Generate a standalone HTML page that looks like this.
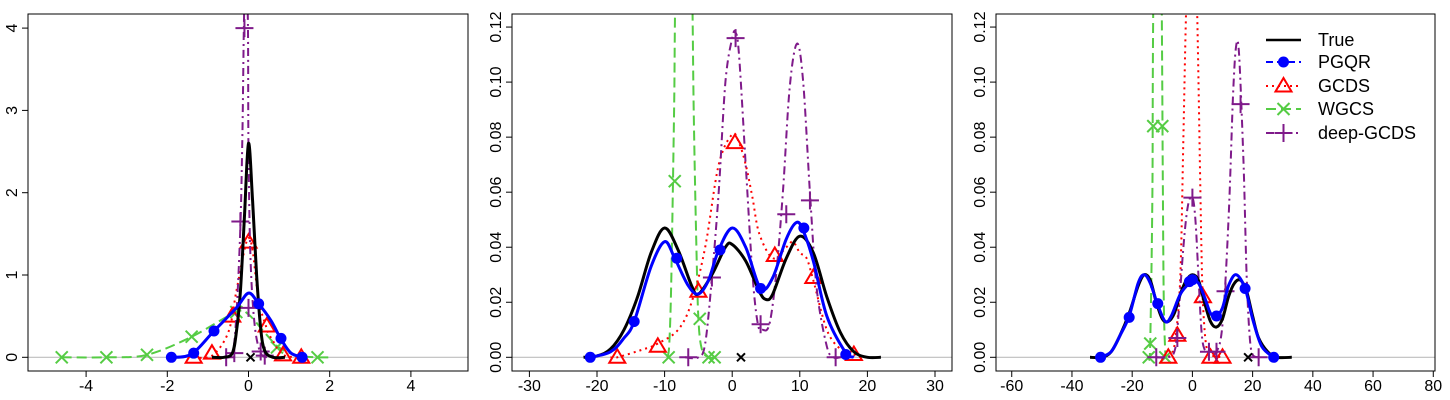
<!DOCTYPE html>
<html><head><meta charset="utf-8"><style>
body{margin:0;background:#fff;}
svg{display:block;font-family:"Liberation Sans",Arial,sans-serif;}
</style></head><body>
<svg id="c" width="1450" height="400" xmlns="http://www.w3.org/2000/svg"></svg>
<script>
// ===== Panel 1 data =====
const p1True=[[-0.9,0],[-0.6,0],[-0.4,0.05],[-0.3,0.3],[-0.2,0.8],[-0.1,1.7],[0,2.6],[0.1,1.9],[0.2,1.0],[0.3,0.35],[0.4,0.08],[0.6,0],[0.9,0]];
const p1Pgqr=[[-1.9,0],[-1.4,0.04],[-0.85,0.32],[-0.3,0.6],[0,0.78],[0.25,0.65],[0.55,0.45],[0.8,0.22],[1.05,0.05],[1.35,0]];
const p1PgqrPts=[[-1.9,0],[-1.35,0.05],[-0.85,0.32],[0.25,0.65],[0.8,0.23],[1.32,0]];
const p1Gcds=[[-1.35,0],[-0.9,0.02],[-0.5,0.3],[-0.3,0.8],[-0.1,1.3],[0,1.45],[0.1,1.3],[0.25,0.7],[0.45,0.35],[0.6,0.2],[0.85,0.03],[1.3,0]];
const p1GcdsPts=[[-1.35,0],[-0.9,0.05],[-0.4,0.5],[0,1.4],[0.45,0.38],[0.85,0.03],[1.3,0]];
const p1Wgcs=[[-4.6,0],[-3.5,0],[-2.5,0.03],[-1.4,0.25],[-0.3,0.55],[0,0.52],[0.4,0.3],[0.75,0.12],[1.2,0.02],[1.7,0],[2.0,0]];
const p1WgcsPts=[[-4.6,0],[-3.5,0],[-2.5,0.03],[-1.4,0.25],[-0.3,0.55],[0.7,0.12],[1.7,0]];
const p1Deep=[[-0.6,0],[-0.4,0.05],[-0.3,0.5],[-0.2,1.6],[-0.15,2.7],[-0.1,4.3],[-0.02,4.2],[0,2.5],[0.05,1.2],[0.15,0.4],[0.3,0.05],[0.5,0]];
const p1DeepPts=[[-0.55,0],[-0.35,0.05],[-0.2,1.65],[-0.1,4.0],[0.0,0.6],[0.3,0.07],[0.4,0.02]];
const p1Obs=[0.05];
const p1XTicks=[-4,-2,0,2,4];
const p1YTicks=[0,1,2,3,4];
// ===== Panel 2 data =====
const p2True=[[-22,0],[-20,0.0005],[-18,0.003],[-16,0.01],[-14,0.022],[-12,0.038],[-10,0.047],[-8,0.039],[-6,0.026],[-5,0.023],[-3,0.03],[-1,0.04],[0,0.041],[2,0.035],[4,0.024],[5,0.021],[6,0.023],[8,0.036],[10,0.044],[12,0.038],[14,0.022],[16,0.009],[18,0.002],[20,0],[22,0]];
const p2Pgqr=[[-21,0],[-18,0.002],[-16,0.007],[-14.5,0.013],[-12,0.033],[-10,0.042],[-8.5,0.036],[-6.5,0.026],[-5,0.023],[-3.5,0.028],[-2,0.039],[0,0.047],[2,0.04],[4.2,0.025],[6,0.029],[8,0.043],[9.5,0.049],[10.5,0.046],[12,0.035],[14,0.015],[16.7,0.002],[18,0]];
const p2PgqrPts=[[-21,0],[-14.5,0.013],[-8.2,0.036],[-1.8,0.039],[4.2,0.025],[10.6,0.047],[16.8,0.001]];
const p2Gcds=[[-18,0],[-17,0],[-13,0.003],[-11,0.005],[-8,0.01],[-6,0.02],[-4,0.04],[-2,0.07],[0,0.081],[1,0.078],[2,0.07],[3,0.058],[4,0.045],[6,0.036],[8,0.04],[9,0.042],[10,0.038],[11,0.036],[12,0.028],[14,0.01],[16,0.003],[18,0.001],[19,0]];
const p2GcdsPts=[[-17,0],[-11,0.004],[-5,0.024],[0.4,0.078],[6.3,0.037],[12,0.029],[18,0.001]];
const p2Wgcs=[[-9.6,0],[-9.3,0.005],[-9.0,0.03],[-8.6,0.09],[-8.3,0.15],[-7,0.3],[-6,0.15],[-5.7,0.09],[-5.3,0.04],[-5,0.014],[-4.5,0.003],[-3.5,0],[-2.5,0]];
const p2WgcsPts=[[-9.4,0],[-8.5,0.064],[-4.8,0.014],[-3.5,0],[-2.6,0]];
const p2Deep=[[-7,0],[-5,0],[-4,0.005],[-3,0.029],[-2,0.06],[-1,0.1],[0,0.116],[0.5,0.118],[1,0.11],[2,0.07],[3,0.03],[3.8,0.012],[4.5,0.01],[5.5,0.012],[6.5,0.03],[7.5,0.06],[8.5,0.098],[9.6,0.114],[10.5,0.1],[11.5,0.06],[12.5,0.025],[14,0.004],[15,0],[16,0]];
const p2DeepPts=[[-6.5,0],[-3,0.029],[0.5,0.116],[4.2,0.012],[8,0.052],[11.5,0.057],[15.3,0]];
const p2Obs=[1.3];
const p2XTicks=[-30,-20,-10,0,10,20,30];
const p2YTicks=[0,0.02,0.04,0.06,0.08,0.10,0.12];
// ===== Panel 3 data =====
const p3True=[[-34,0],[-30,0],[-27,0.002],[-24,0.008],[-21,0.016],[-18,0.026],[-16,0.03],[-14,0.028],[-12,0.02],[-10,0.014],[-8,0.013],[-6,0.016],[-4,0.023],[-2,0.028],[0,0.03],[2,0.028],[4,0.02],[6,0.013],[8,0.011],[10,0.014],[12,0.022],[14,0.027],[16,0.028],[18,0.024],[20,0.015],[22,0.007],[25,0.002],[28,0],[33,0]];
const p3Pgqr=[[-30.5,0],[-27,0.002],[-24,0.008],[-21,0.015],[-18,0.027],[-16,0.03],[-14,0.027],[-11.5,0.019],[-9,0.013],[-7,0.015],[-4,0.023],[-1,0.027],[0,0.028],[2,0.027],[4,0.022],[6,0.016],[8,0.015],[10,0.018],[12,0.026],[14.5,0.03],[17.5,0.025],[20,0.014],[23,0.004],[27,0]];
const p3PgqrPts=[[-30.5,0],[-21,0.0145],[-11.5,0.0195],[-1,0.0275],[0,0.0282],[8,0.015],[17.5,0.025],[27,0]];
const p3Gcds=[[-10,0],[-7,0.001],[-5.5,0.008],[-4,0.03],[-3,0.08],[-2,0.13],[0,0.2],[1.5,0.13],[2.5,0.07],[3,0.04],[3.5,0.02],[4.5,0.005],[6,0.001],[10,0]];
const p3GcdsPts=[[-8,0],[-5,0.008],[3.5,0.022],[6,0],[10,0]];
const p3Wgcs=[[-14.5,0],[-14,0.005],[-13.3,0.06],[-13,0.13],[-11.5,0.3],[-10.2,0.13],[-9.8,0.06],[-9.5,0.02],[-9,0.002],[-8.5,0]];
const p3WgcsPts=[[-14.5,0],[-14,0.005],[-13,0.084],[-10,0.084],[-9,0]];
const p3Deep=[[-12,0],[-8,0],[-6,0.002],[-5,0.01],[-3,0.04],[-1.5,0.055],[0,0.058],[1,0.05],[2,0.03],[3,0.01],[4,0.003],[6,0.002],[8,0.002],[10,0.012],[12,0.05],[13.5,0.095],[14.5,0.113],[15.5,0.11],[17,0.07],[18,0.03],[19,0.008],[20,0.001],[22,0]];
const p3DeepPts=[[-12,0],[-5,0.007],[0,0.058],[5.5,0.002],[8,0.002],[11,0.024],[16,0.092],[22,0]];
const p3Obs=[18.5];
const p3XTicks=[-60,-40,-20,0,20,40,60,80];
const p3YTicks=[0,0.02,0.04,0.06,0.08,0.10,0.12];

const legendLabels=["True","PGQR","GCDS","WGCS","deep-GCDS"];

const NS="http://www.w3.org/2000/svg";
const svg=document.getElementById('c');
function mk(tag,attrs,parent){const e=document.createElementNS(NS,tag);for(const k in attrs)e.setAttribute(k,attrs[k]);(parent||svg).appendChild(e);return e;}
function smooth(pts){
  let d="M"+pts[0][0].toFixed(1)+","+pts[0][1].toFixed(1);
  for(let i=0;i<pts.length-1;i++){
    const p0=pts[Math.max(0,i-1)],p1=pts[i],p2=pts[i+1],p3=pts[Math.min(pts.length-1,i+2)];
    const c1=[p1[0]+(p2[0]-p0[0])/6,p1[1]+(p2[1]-p0[1])/6];
    const c2=[p2[0]-(p3[0]-p1[0])/6,p2[1]-(p3[1]-p1[1])/6];
    d+=" C"+c1.map(v=>v.toFixed(1))+" "+c2.map(v=>v.toFixed(1))+" "+p2[0].toFixed(1)+","+p2[1].toFixed(1);
  }
  return d;
}
function marker(type,x,y,g){
  let e;
  if(type==='circle'){e=mk('circle',{cx:x,cy:y,r:5.5,fill:'#0000ff'},g);}
  else if(type==='tri'){e=mk('polygon',{points:`${x},${y-8} ${x-8},${y+5.5} ${x+8},${y+5.5}`,fill:'none',stroke:'#ff0000','stroke-width':2},g);}
  else if(type==='x'){e=mk('path',{d:`M${x-6},${y-6}L${x+6},${y+6}M${x-6},${y+6}L${x+6},${y-6}`,stroke:'#55cc44','stroke-width':2},g);}
  else if(type==='plus'){e=mk('path',{d:`M${x-9},${y}L${x+9},${y}M${x},${y-9}L${x},${y+9}`,stroke:'#7f1a8a','stroke-width':2},g);}
  return e;
}
const styles={
  true:{stroke:'#000',w:3,dash:''},
  pgqr:{stroke:'#0000ff',w:3,dash:''},
  gcds:{stroke:'#ff0000',w:2,dash:'2,4'},
  wgcs:{stroke:'#55cc44',w:2,dash:'10,5'},
  deep:{stroke:'#7f1a8a',w:2,dash:'8,4,2,4'}
};
function panel(cfg){
  const {id,L,R,T,B,x0,xs,y0,ys,xt,yt,yfmt,series,obs}=cfg;
  const X=v=>x0+v*xs, Y=v=>y0-v*ys;
  const g=mk('g',{});
  
  
  const clip=mk('clipPath',{id:id+'-clip'},g);
  mk('rect',{x:L,y:T,width:R-L,height:B-T},clip);
  const base=mk('line',{x1:L,x2:R,y1:Y(0),y2:Y(0),stroke:'#bebebe','stroke-width':1.2},g);
  
  
  const pg=mk('g',{'clip-path':`url(#${id}-clip)`},g);
  series.forEach(s=>{
    const st=styles[s.key];
    const p=mk('path',{d:smooth(s.line.map(q=>[X(q[0]),Y(q[1])])),fill:'none',stroke:st.stroke,'stroke-width':st.w,'stroke-dasharray':st.dash,'stroke-linejoin':'round'},pg);
    
    
    if(s.pts){s.pts.forEach(q=>{const m=marker(s.m,X(q[0]),Y(q[1]),pg);
      
      });}
  });
  obs.forEach(o=>{const e=mk('path',{d:`M${X(o)-4},${Y(0)-4}L${X(o)+4},${Y(0)+4}M${X(o)-4},${Y(0)+4}L${X(o)+4},${Y(0)-4}`,stroke:'#000','stroke-width':2},pg);
    
    });
  const box=mk('rect',{x:L,y:T,width:R-L,height:B-T,fill:'none',stroke:'#000','stroke-width':1},g);
  
  
  xt.forEach(v=>{const x=X(v);
    mk('line',{x1:x,x2:x,y1:B,y2:B+6,stroke:'#000'},g);
    const t=mk('text',{x:x,y:B+20,'text-anchor':'middle','font-size':16,fill:'#000'},g);
    t.textContent=String(v);
    
    });
  yt.forEach(v=>{const y=Y(v);
    mk('line',{x1:L-6,x2:L,y1:y,y2:y,stroke:'#000'},g);
    const t=mk('text',{x:L-11,y:y,'text-anchor':'middle','font-size':16,fill:'#000',transform:`rotate(-90 ${L-11} ${y})`},g);
    t.textContent=yfmt(v);
    
    });
}
panel({id:'panel-1',L:28,R:468,T:14,B:371,x0:248.5,xs:40.6,y0:357.3,ys:82.3,xt:p1XTicks,yt:p1YTicks,yfmt:v=>String(v),obs:p1Obs,
 series:[{key:'wgcs',line:p1Wgcs,pts:p1WgcsPts,m:'x'},{key:'gcds',line:p1Gcds,pts:p1GcdsPts,m:'tri'},{key:'deep',line:p1Deep,pts:p1DeepPts,m:'plus'},{key:'true',line:p1True},{key:'pgqr',line:p1Pgqr,pts:p1PgqrPts,m:'circle'}]});
panel({id:'panel-2',L:512,R:952,T:14,B:371,x0:732.2,xs:6.76,y0:357.3,ys:2752,xt:p2XTicks,yt:p2YTicks,yfmt:v=>v.toFixed(2),obs:p2Obs,
 series:[{key:'wgcs',line:p2Wgcs,pts:p2WgcsPts,m:'x'},{key:'gcds',line:p2Gcds,pts:p2GcdsPts,m:'tri'},{key:'deep',line:p2Deep,pts:p2DeepPts,m:'plus'},{key:'true',line:p2True},{key:'pgqr',line:p2Pgqr,pts:p2PgqrPts,m:'circle'}]});
panel({id:'panel-3',L:996,R:1435,T:14,B:371,x0:1192.4,xs:3.011,y0:357.3,ys:2752,xt:p3XTicks,yt:p3YTicks,yfmt:v=>v.toFixed(2),obs:p3Obs,
 series:[{key:'wgcs',line:p3Wgcs,pts:p3WgcsPts,m:'x'},{key:'gcds',line:p3Gcds,pts:p3GcdsPts,m:'tri'},{key:'deep',line:p3Deep,pts:p3DeepPts,m:'plus'},{key:'true',line:p3True},{key:'pgqr',line:p3Pgqr,pts:p3PgqrPts,m:'circle'}]});

// legend
const lg=mk('g',{});


const keys=['true','pgqr','gcds','wgcs','deep'];
const mks=[null,'circle','tri','x','plus'];
const rowY=[40,62,86,109,133];
keys.forEach((k,i)=>{
  const st=styles[k];const y=rowY[i];
  const ent=mk('g',{},lg);
  
  
  mk('line',{x1:1266,x2:1301,y1:y,y2:y,stroke:st.stroke,'stroke-width':k==='true'?2.5:2,'stroke-dasharray':k==='pgqr'?'7,4':st.dash},ent);
  if(mks[i])marker(mks[i],1283.5,y,ent);
  const t=mk('text',{x:1318,y:y+6,'font-size':18,fill:'#000'},ent);
  t.textContent=legendLabels[i];
});
</script>
</body></html>
